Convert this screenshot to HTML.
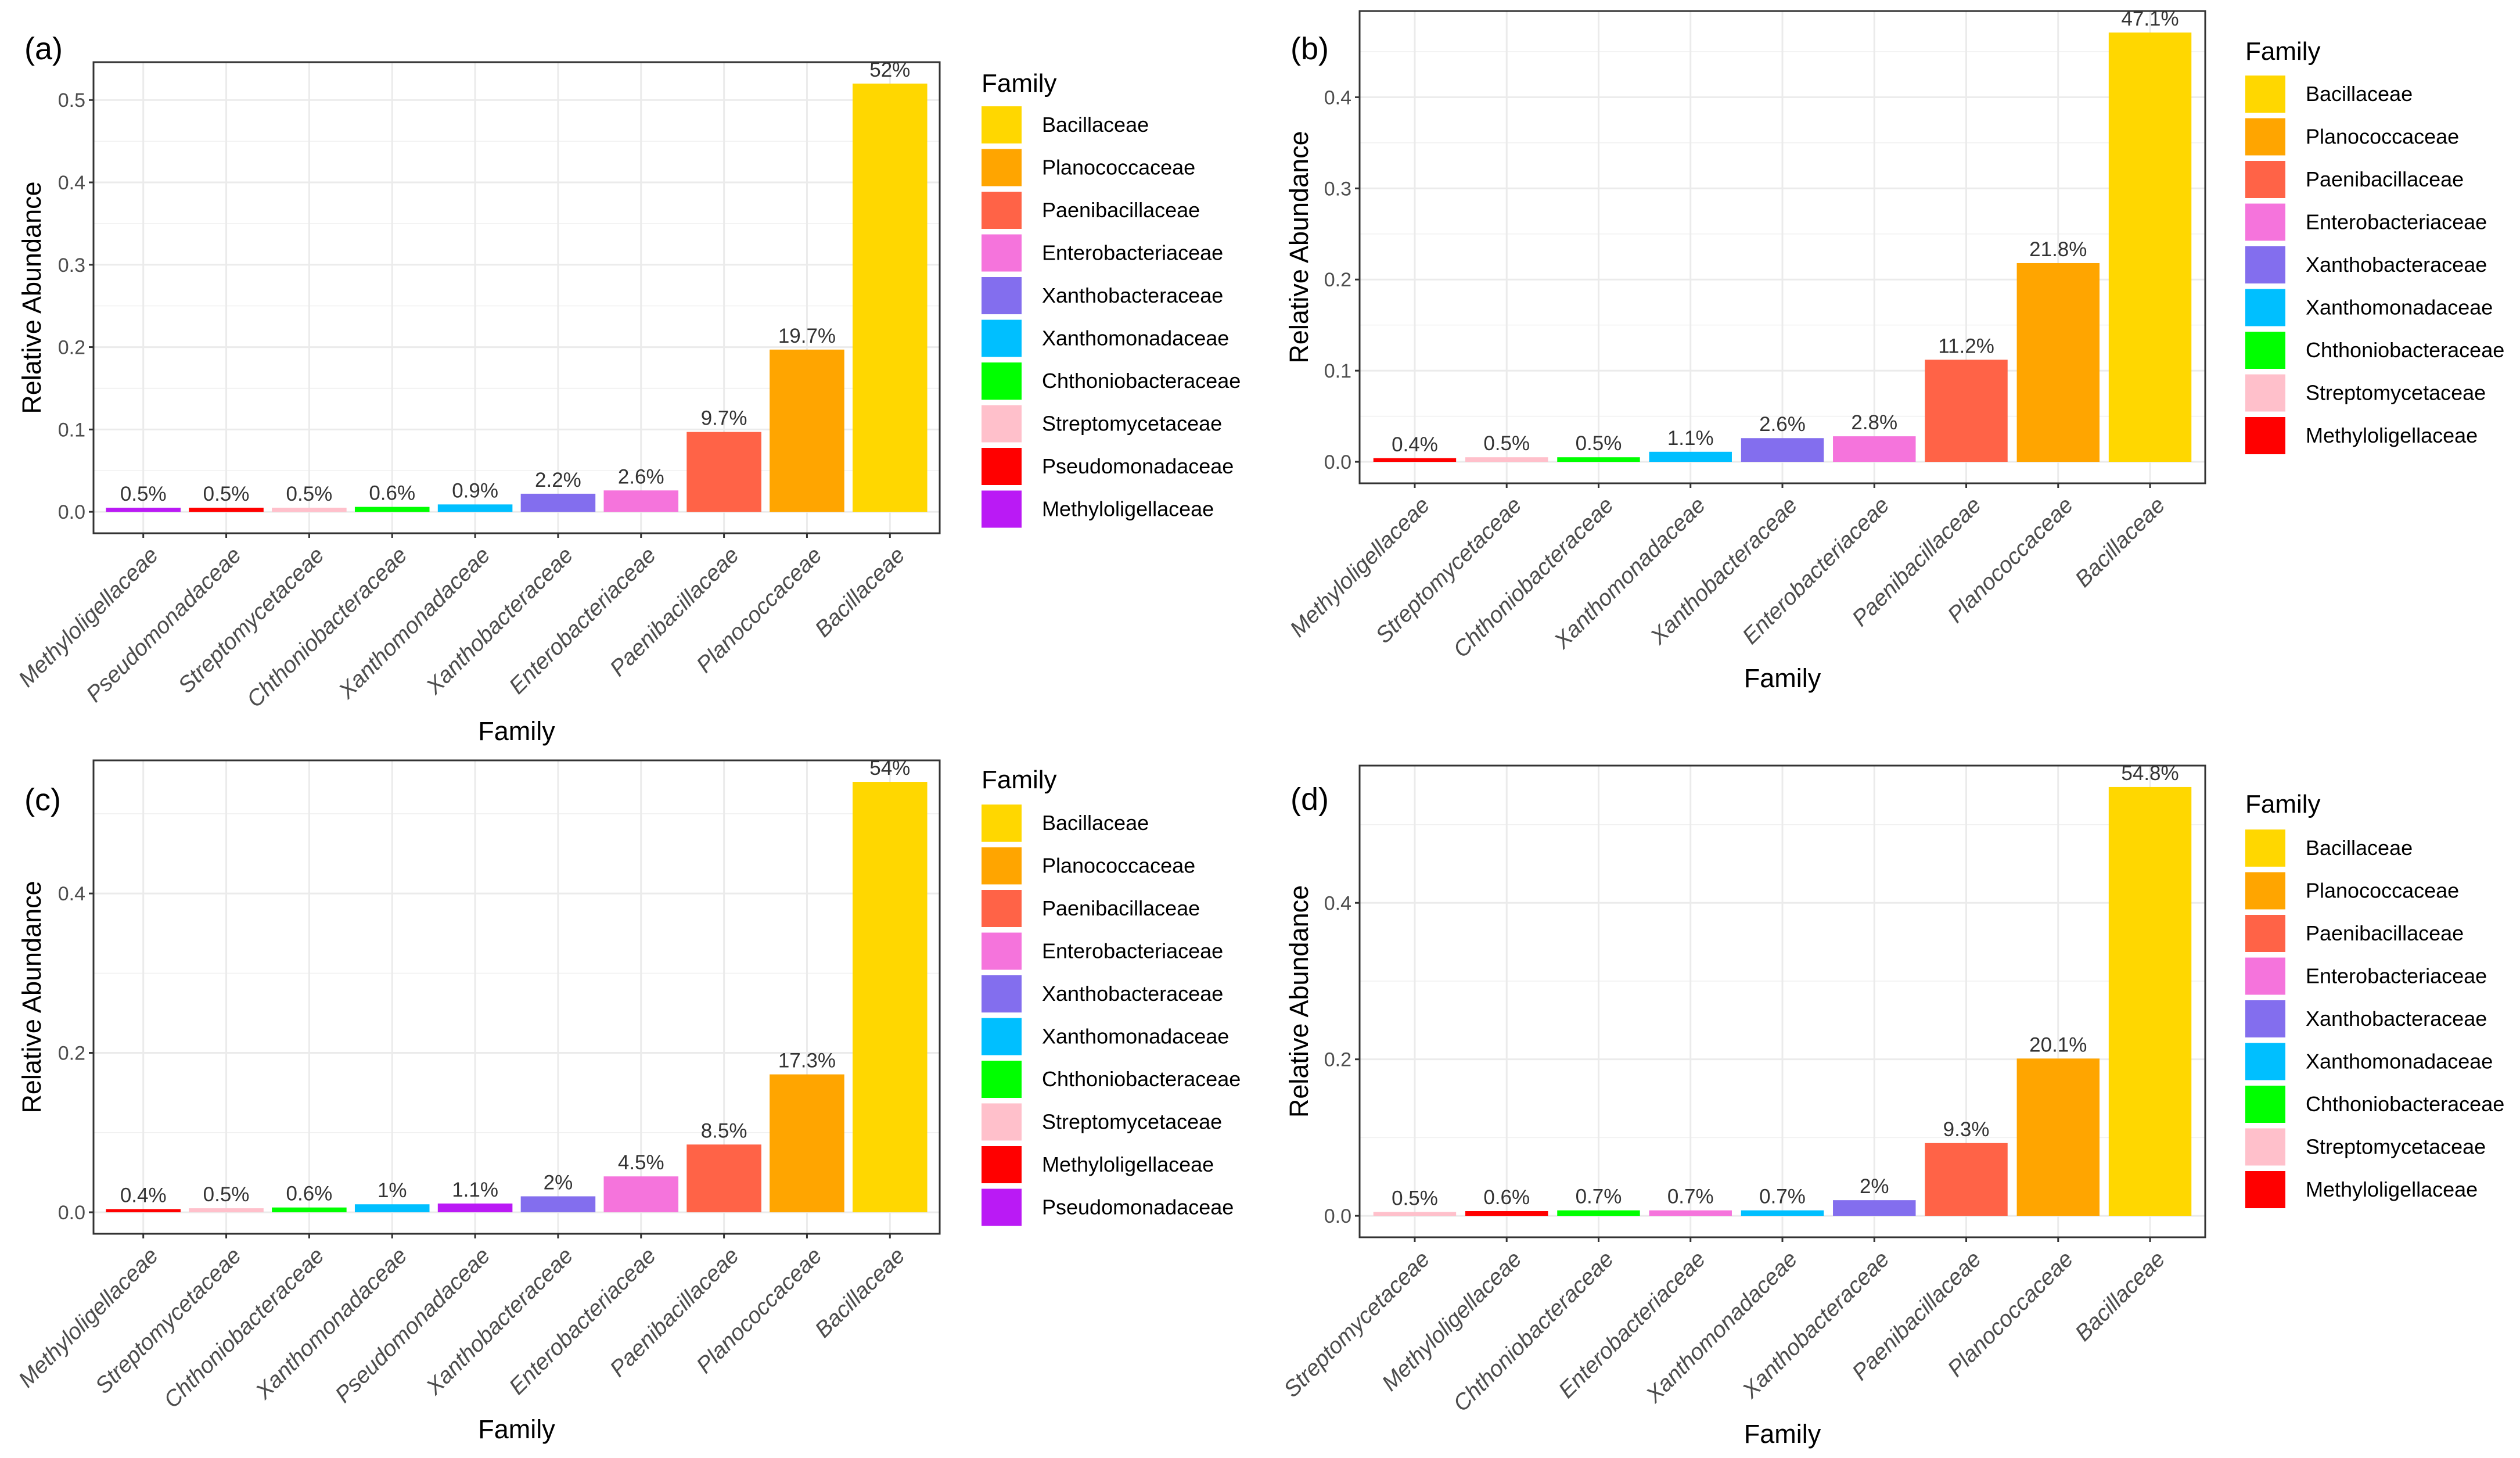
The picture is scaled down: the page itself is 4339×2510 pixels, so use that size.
<!DOCTYPE html>
<html><head><meta charset="utf-8"><style>
html,body{margin:0;padding:0;background:#fff;}
svg{display:block;font-family:"Liberation Sans",Arial,sans-serif;}
</style></head><body>
<svg id="fig" width="4339" height="2510" viewBox="0 0 4339 2510" xmlns="http://www.w3.org/2000/svg"></svg>
<script>
// ---- data ----
const catsA = ["Methyloligellaceae","Pseudomonadaceae","Streptomycetaceae","Chthoniobacteraceae","Xanthomonadaceae","Xanthobacteraceae","Enterobacteriaceae","Paenibacillaceae","Planococcaceae","Bacillaceae"];
const valsA = [0.005,0.005,0.005,0.006,0.009,0.022,0.026,0.097,0.197,0.52];
const labsA = ["0.5%","0.5%","0.5%","0.6%","0.9%","2.2%","2.6%","9.7%","19.7%","52%"];
const legA = ["Bacillaceae","Planococcaceae","Paenibacillaceae","Enterobacteriaceae","Xanthobacteraceae","Xanthomonadaceae","Chthoniobacteraceae","Streptomycetaceae","Pseudomonadaceae","Methyloligellaceae"];
const ticksA = [0,0.1,0.2,0.3,0.4,0.5];
const tickLabsA = ["0.0","0.1","0.2","0.3","0.4","0.5"];

const catsB = ["Methyloligellaceae","Streptomycetaceae","Chthoniobacteraceae","Xanthomonadaceae","Xanthobacteraceae","Enterobacteriaceae","Paenibacillaceae","Planococcaceae","Bacillaceae"];
const valsB = [0.004,0.005,0.005,0.011,0.026,0.028,0.112,0.218,0.471];
const labsB = ["0.4%","0.5%","0.5%","1.1%","2.6%","2.8%","11.2%","21.8%","47.1%"];
const legB = ["Bacillaceae","Planococcaceae","Paenibacillaceae","Enterobacteriaceae","Xanthobacteraceae","Xanthomonadaceae","Chthoniobacteraceae","Streptomycetaceae","Methyloligellaceae"];
const ticksB = [0,0.1,0.2,0.3,0.4];
const tickLabsB = ["0.0","0.1","0.2","0.3","0.4"];

const catsC = ["Methyloligellaceae","Streptomycetaceae","Chthoniobacteraceae","Xanthomonadaceae","Pseudomonadaceae","Xanthobacteraceae","Enterobacteriaceae","Paenibacillaceae","Planococcaceae","Bacillaceae"];
const valsC = [0.004,0.005,0.006,0.010,0.011,0.020,0.045,0.085,0.173,0.54];
const labsC = ["0.4%","0.5%","0.6%","1%","1.1%","2%","4.5%","8.5%","17.3%","54%"];
const legC = ["Bacillaceae","Planococcaceae","Paenibacillaceae","Enterobacteriaceae","Xanthobacteraceae","Xanthomonadaceae","Chthoniobacteraceae","Streptomycetaceae","Methyloligellaceae","Pseudomonadaceae"];
const ticksC = [0,0.2,0.4];
const tickLabsC = ["0.0","0.2","0.4"];

const catsD = ["Streptomycetaceae","Methyloligellaceae","Chthoniobacteraceae","Enterobacteriaceae","Xanthomonadaceae","Xanthobacteraceae","Paenibacillaceae","Planococcaceae","Bacillaceae"];
const valsD = [0.005,0.006,0.007,0.007,0.007,0.020,0.093,0.201,0.548];
const labsD = ["0.5%","0.6%","0.7%","0.7%","0.7%","2%","9.3%","20.1%","54.8%"];
const legD = ["Bacillaceae","Planococcaceae","Paenibacillaceae","Enterobacteriaceae","Xanthobacteraceae","Xanthomonadaceae","Chthoniobacteraceae","Streptomycetaceae","Methyloligellaceae"];
const ticksD = [0,0.2,0.4];
const tickLabsD = ["0.0","0.2","0.4"];

const baseColors = {Bacillaceae:"#FFD700",Planococcaceae:"#FFA500",Paenibacillaceae:"#FF6347",Enterobacteriaceae:"#F574DC",Xanthobacteraceae:"#836EEE",Xanthomonadaceae:"#00BFFF",Chthoniobacteraceae:"#00FF00",Streptomycetaceae:"#FFC0CB"};

const NS="http://www.w3.org/2000/svg";
const svg=document.getElementById('fig');
function mk(tag,attrs,parent,text){const e=document.createElementNS(NS,tag);for(const k in attrs)e.setAttribute(k,attrs[k]);if(text!==undefined)e.textContent=text;(parent||svg).appendChild(e);return e;}

function panel(cfg){
  const g=mk('g',{});
  
  
  const {L,R,T,B}=cfg;
  const max=Math.max(...cfg.vals);
  const ymin=-0.05*max, ymax=1.05*max;
  const y=v=>B-(v-ymin)/(ymax-ymin)*(B-T);
  const n=cfg.cats.length;
  const step=(R-L)/(n-1+1.2);
  const x=i=>L+step*(0.6+i);
  const colors=Object.assign({},baseColors,cfg.special);
  mk('rect',{x:L,y:T,width:R-L,height:B-T,fill:'#fff'},g);
  const mstep=(cfg.ticks[1]-cfg.ticks[0])/2;
  for(let v=mstep;v<ymax;v+=2*mstep){ if(v>ymin) mk('line',{x1:L,x2:R,y1:y(v),y2:y(v),stroke:'#F0F0F0','stroke-width':1.5},g);}
  cfg.ticks.forEach((t,i)=>{
    const gl=mk('line',{x1:L,x2:R,y1:y(t),y2:y(t),stroke:'#EBEBEB','stroke-width':3},g);
    
    
  });
  cfg.cats.forEach((c,i)=>{mk('line',{x1:x(i),x2:x(i),y1:T,y2:B,stroke:'#EBEBEB','stroke-width':3},g);});
  cfg.cats.forEach((c,i)=>{
    const bw=step*0.9;
    const r=mk('rect',{x:x(i)-bw/2,y:y(cfg.vals[i]),width:bw,height:y(0)-y(cfg.vals[i]),fill:colors[c]},g);
    
    
    const t=mk('text',{x:x(i),y:y(cfg.vals[i])-12,'text-anchor':'middle','font-size':35,fill:'#333'},g,cfg.labs[i]);
    
    
  });
  mk('rect',{x:L,y:T,width:R-L,height:B-T,fill:'none',stroke:'#333','stroke-width':3},g);
  cfg.ticks.forEach((t,i)=>{
    mk('line',{x1:L-8,x2:L,y1:y(t),y2:y(t),stroke:'#333','stroke-width':3},g);
    const tl=mk('text',{x:L-14,y:y(t)+12,'text-anchor':'end','font-size':34,fill:'#4D4D4D'},g,cfg.tickLabs[i]);
    
    
  });
  cfg.cats.forEach((c,i)=>{
    mk('line',{x1:x(i),x2:x(i),y1:B,y2:B+8,stroke:'#333','stroke-width':3},g);
    const px=x(i)+28, py=B+40;
    const tl=mk('text',{x:px,y:py,'text-anchor':'end','font-size':39,'font-style':'italic',fill:'#4D4D4D',transform:`rotate(-45 ${px} ${py})`},g,c);
    
    
  });
  const xt=mk('text',{x:(L+R)/2,y:cfg.xTitleY+16,'text-anchor':'middle','font-size':45,fill:'#000'},g,'Family');
  
  
  const yx=cfg.yTitleX, yy=(T+B)/2;
  const yt=mk('text',{x:yx,y:yy,'text-anchor':'middle','font-size':45,fill:'#000',transform:`rotate(-90 ${yx} ${yy})`,dy:16},g,'Relative Abundance');
  
  
  const pt=mk('text',{x:cfg.tagX,y:cfg.tagY+19,'font-size':54,fill:'#000'},g,cfg.tag);
  
  
  const lt=mk('text',{x:cfg.legX,y:cfg.legTitleY+16,'font-size':44,fill:'#000'},g,'Family');
  
  
  cfg.leg.forEach((c,i)=>{
    const ky=cfg.legKeyY+i*73.5;
    const k=mk('rect',{x:cfg.legX,y:ky,width:69,height:64,fill:colors[c]},g);
    
    
    const lbl=mk('text',{x:cfg.legX+104,y:ky+32+12,'font-size':36,fill:'#000'},g,c);
    
    
  });
}

panel({name:'panel-a',tag:'(a)',cats:catsA,vals:valsA,labs:labsA,leg:legA,ticks:ticksA,tickLabs:tickLabsA,
  special:{Methyloligellaceae:"#BA1AF5",Pseudomonadaceae:"#FF0000"},
  L:161,R:1618,T:107,B:918,xTitleY:1258,yTitleX:54,tagX:42,tagY:83,legX:1690,legTitleY:142,legKeyY:183});
panel({name:'panel-b',tag:'(b)',cats:catsB,vals:valsB,labs:labsB,leg:legB,ticks:ticksB,tickLabs:tickLabsB,
  special:{Methyloligellaceae:"#FF0000"},
  L:2341,R:3797,T:19,B:832,xTitleY:1167,yTitleX:2236,tagX:2222,tagY:83,legX:3866,legTitleY:87,legKeyY:130});
panel({name:'panel-c',tag:'(c)',cats:catsC,vals:valsC,labs:labsC,leg:legC,ticks:ticksC,tickLabs:tickLabsC,
  special:{Methyloligellaceae:"#FF0000",Pseudomonadaceae:"#BA1AF5"},
  L:161,R:1618,T:1309,B:2124,xTitleY:2460,yTitleX:54,tagX:42,tagY:1376,legX:1690,legTitleY:1341,legKeyY:1385});
panel({name:'panel-d',tag:'(d)',cats:catsD,vals:valsD,labs:labsD,leg:legD,ticks:ticksD,tickLabs:tickLabsD,
  special:{Methyloligellaceae:"#FF0000"},
  L:2341,R:3797,T:1318,B:2130,xTitleY:2468,yTitleX:2236,tagX:2222,tagY:1375,legX:3866,legTitleY:1383,legKeyY:1428});
</script>
</body></html>
